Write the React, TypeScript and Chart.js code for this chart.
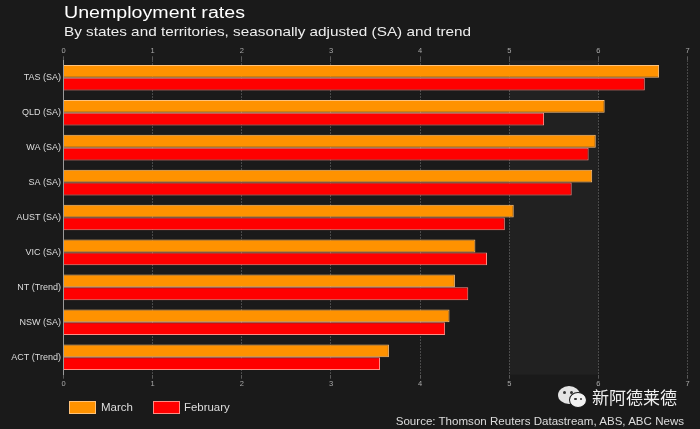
import React, { useEffect, useRef } from 'react';
import { Chart, registerables } from 'chart.js';

Chart.register(...registerables);

const categories = ['TAS (SA)', 'QLD (SA)', 'WA (SA)', 'SA (SA)', 'AUST (SA)', 'VIC (SA)', 'NT (Trend)', 'NSW (SA)', 'ACT (Trend)'];
const marchValues = [6.68, 6.07, 5.97, 5.93, 5.05, 4.62, 4.39, 4.33, 3.65];
const februaryValues = [6.52, 5.39, 5.89, 5.7, 4.95, 4.75, 4.54, 4.28, 3.55];
const xTickValues = [0, 1, 2, 3, 4, 5, 6, 7];
const seriesNames = ['March', 'February'];
const seriesColors = ['#FF9200', '#FF0000'];
const seriesBorders = ['#FFC27A', '#FF8C84'];

const FONT = "'Liberation Sans', Arial, sans-serif";
const BG = '#1a1a1a';

const bandPlugin = {
  id: 'bands',
  beforeDraw(chart: any) {
    const { ctx, chartArea, scales } = chart;
    ctx.save();
    ctx.fillStyle = BG;
    ctx.fillRect(0, 0, chart.width, chart.height);
    const x = scales.x;
    const l = x.getPixelForValue(5);
    const r = x.getPixelForValue(6);
    ctx.fillStyle = '#212121';
    ctx.fillRect(l, chartArea.top, r - l, chartArea.bottom - chartArea.top);
    ctx.restore();
  },
};

function Txt(props: any) {
  const { left, right, top, size, scale = 1, color = '#ddd', family = FONT, children } = props;
  const style: any = {
    position: 'absolute',
    top,
    fontFamily: family,
    fontSize: size,
    lineHeight: size + 'px',
    color,
    whiteSpace: 'nowrap',
    transform: `scaleX(${scale})`,
    transformOrigin: right !== undefined ? 'right top' : 'left top',
  };
  if (right !== undefined) style.right = right;
  else style.left = left;
  return <div style={style}>{children}</div>;
}

export default function App() {
  const ref = useRef<HTMLCanvasElement>(null);

  useEffect(() => {
    if (!ref.current) return;
    const gridColor = 'rgba(255,255,255,0.28)';
    const xTickCfg = {
      color: '#aaa',
      font: { family: FONT, size: 7.5 },
      padding: 1,
      autoSkip: false,
      maxRotation: 0,
    };
    const chart = new Chart(ref.current, {
      type: 'bar',
      data: {
        labels: categories,
        datasets: [
          {
            label: seriesNames[0],
            data: marchValues,
            backgroundColor: seriesColors[0],
            borderColor: seriesBorders[0],
            borderWidth: 1,
            borderSkipped: 'start',
            categoryPercentage: 0.734,
            barPercentage: 1,
          },
          {
            label: seriesNames[1],
            data: februaryValues,
            backgroundColor: seriesColors[1],
            borderColor: seriesBorders[1],
            borderWidth: 1,
            borderSkipped: 'start',
            categoryPercentage: 0.734,
            barPercentage: 1,
          },
        ],
      },
      options: {
        indexAxis: 'y',
        animation: false,
        responsive: false,
        devicePixelRatio: 1,
        layout: { padding: { top: 40, bottom: 34, left: 0, right: 12.4 } },
        plugins: {
          legend: { display: false },
          tooltip: { enabled: false },
          title: { display: false },
        },
        scales: {
          x: {
            type: 'linear',
            position: 'bottom',
            min: 0,
            max: 7,
            afterBuildTicks: (s: any) => {
              s.ticks = xTickValues.map((v) => ({ value: v }));
            },
            afterFit: (s: any) => {
              s.height = 20.3;
            },
            ticks: xTickCfg,
            grid: { color: gridColor, tickLength: 4, tickColor: gridColor },
            border: { display: false, dash: [1.5, 1.5] },
          },
          xTop: {
            type: 'linear',
            position: 'top',
            min: 0,
            max: 7,
            afterBuildTicks: (s: any) => {
              s.ticks = xTickValues.map((v) => ({ value: v }));
            },
            afterFit: (s: any) => {
              s.height = 20.3;
            },
            ticks: xTickCfg,
            grid: { drawOnChartArea: false, color: gridColor, tickLength: 4 },
            border: { display: false, dash: [1.5, 1.5] },
          },
          y: {
            type: 'category',
            afterFit: (s: any) => {
              s.width = 63.5;
            },
            ticks: { color: '#dddddd', font: { family: FONT, size: 9 }, padding: 2.5 },
            grid: { display: false, drawTicks: false },
            border: { display: true, color: '#9a9a9a', width: 1 },
          },
        },
      } as any,
      plugins: [bandPlugin],
    });
    return () => chart.destroy();
  }, []);

  return (
    <div
      style={{
        position: 'absolute',
        left: 0,
        top: 0,
        width: 700,
        height: 429,
        background: BG,
        overflow: 'hidden',
      }}
    >
      <canvas ref={ref} width={700} height={429} style={{ position: 'absolute', left: 0, top: 0 }} />
      <Txt left={64} top={4.6} size={16} scale={1.226} color="#ffffff">Unemployment rates</Txt>
      <Txt left={64} top={25} size={13} scale={1.176} color="#eeeeee">By states and territories, seasonally adjusted (SA) and trend</Txt>

      <div style={{ position: 'absolute', left: 69, top: 401, width: 27, height: 12.7, boxSizing: 'border-box', background: seriesColors[0], border: '1px solid ' + seriesBorders[0] }} />
      <Txt left={100.7} top={401.9} size={10.7} scale={1.077}>{seriesNames[0]}</Txt>
      <div style={{ position: 'absolute', left: 153.3, top: 401, width: 27, height: 12.7, boxSizing: 'border-box', background: seriesColors[1], border: '1px solid ' + seriesBorders[1] }} />
      <Txt left={184.3} top={401.9} size={10.7} scale={1.07}>{seriesNames[1]}</Txt>

      {/* watermark */}
      <div style={{ position: 'absolute', left: 558, top: 386, width: 22, height: 18, borderRadius: '50%', background: '#e4e4e4' }}>
        <div style={{ position: 'absolute', left: 5, top: 5, width: 3, height: 3, borderRadius: '50%', background: '#333' }} />
        <div style={{ position: 'absolute', left: 12, top: 5, width: 3, height: 3, borderRadius: '50%', background: '#333' }} />
      </div>
      <div style={{ position: 'absolute', left: 569, top: 391.5, width: 18, height: 16, borderRadius: '50%', background: '#f2f2f2', border: '1.5px solid ' + BG, boxSizing: 'border-box' }}>
        <div style={{ position: 'absolute', left: 4, top: 5, width: 2.5, height: 2.5, borderRadius: '50%', background: '#333' }} />
        <div style={{ position: 'absolute', left: 9.5, top: 5, width: 2.5, height: 2.5, borderRadius: '50%', background: '#333' }} />
      </div>
      <Txt left={592} top={388} size={17} color="#f0f0f0" family="'Noto Sans CJK SC', sans-serif">新阿德莱德</Txt>

      <Txt right={15.7} top={417} size={10.2} scale={1.135}>Source: Thomson Reuters Datastream, ABS, ABC News</Txt>
    </div>
  );
}
